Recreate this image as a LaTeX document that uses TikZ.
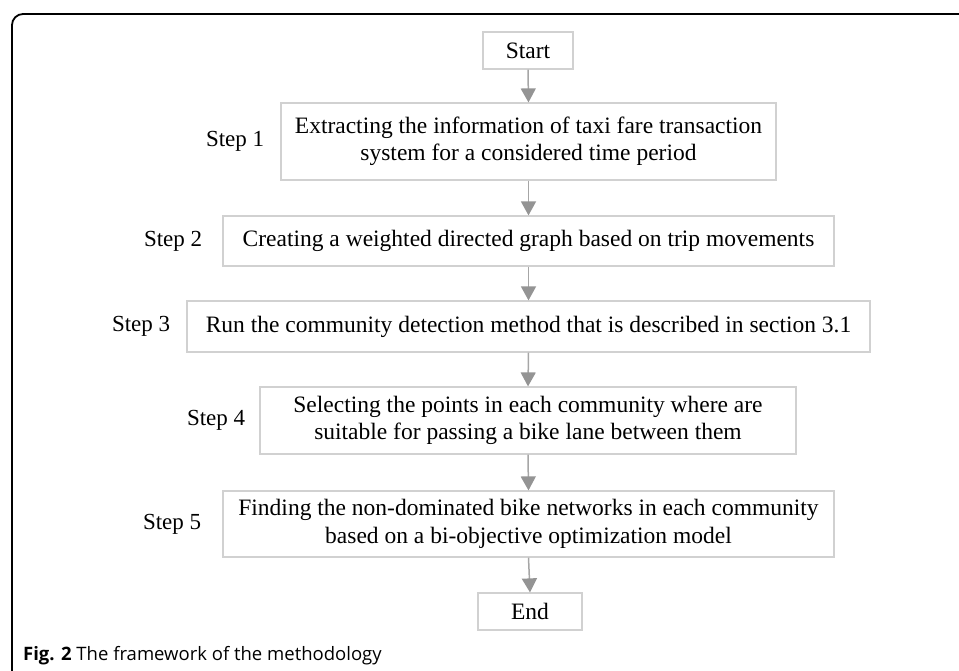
\documentclass[tikz,border=0pt]{standalone}
\usepackage{fontspec}
\setmainfont{Liberation Serif}
\newfontfamily\capfont{Open Sans}
\usetikzlibrary{arrows.meta,positioning}
\colorlet{boxline}{black!18}
\colorlet{arrline}{black!35}
\colorlet{arrhead}{black!42}
\tikzset{
    stepbox/.style={draw=boxline,line width=1.2pt,inner sep=0pt,align=center,
        font=\fontsize{23.5}{27.5}\selectfont},
    steplabel/.style={inner sep=0pt,font=\fontsize{23}{27}\selectfont},
    flow/.style={arrline,line width=1.5pt,
        -{Triangle[width=15pt,length=14pt,color=arrhead]}}
}

\begin{document}
\begin{tikzpicture}[x=1pt,y=-1pt]
        \useasboundingbox (0,0) rectangle (959,671);
        \draw [line width=1.8pt,rounded corners=11pt] (959,14) -- (12,14) -- (12,671);
        % boxes
        \node [stepbox,minimum width=90pt,minimum height=37pt] (start) at (528,50.5) {Start};
        \node [stepbox,minimum width=495pt,minimum height=77pt] (s1) at (528.5,141.5)
            {Extracting the information of taxi fare transaction\\system for a considered time period};
        \node [stepbox,minimum width=611pt,minimum height=50pt] (s2) at (528.5,241)
            {Creating a weighted directed graph based on trip movements};
        \node [stepbox,minimum width=683pt,minimum height=51pt] (s3) at (528.5,326.5)
            {Run the community detection method that is described in section 3.1};
        \node [stepbox,minimum width=536pt,minimum height=67pt] (s4) at (528,420.5)
            {Selecting the points in each community where are\\suitable for passing a bike lane between them};
        \node [stepbox,minimum width=611pt,minimum height=66pt] (s5) at (528.5,524)
            {Finding the non-dominated bike networks in each community\\based on a bi-objective optimization model};
        \node [stepbox,minimum width=104pt,minimum height=37pt] (end) at (530,611.5) {End};
        % labels
        \node [steplabel,left=16pt of s1] (l1) {Step 1};
        \node [steplabel,left=20pt of s2] (l2) {Step 2};
        \node [steplabel,left=16pt of s3] (l3) {Step 3};
        \node [steplabel,left=14pt of s4] (l4) {Step 4};
        \node [steplabel,left=21pt of s5] (l5) {Step 5};
        % arrows
        \foreach \a/\b in {start/s1,s1/s2,s2/s3,s3/s4,s4/s5,s5/end} {
            \draw [flow] (\a.south) -- (\b.north);
        }
        \node [anchor=west,inner sep=0pt,font=\capfont\fontsize{18.5}{22}\selectfont] (cap) at (23,656)
            {\textbf{Fig. 2} The framework of the methodology};
    \end{tikzpicture}
\end{document}
